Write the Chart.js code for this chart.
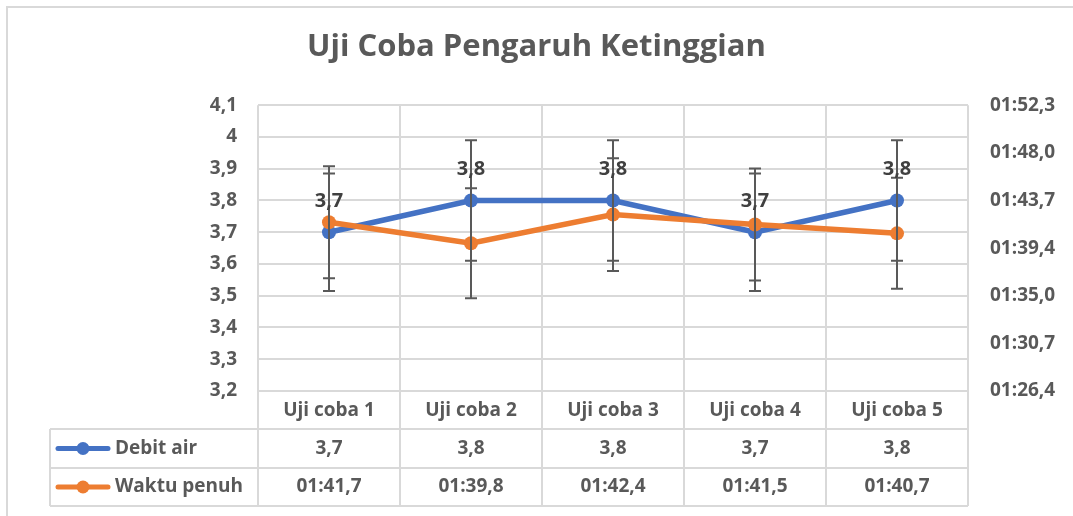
<!DOCTYPE html>
<html>
<head>
<meta charset="utf-8">
<title>Uji Coba Pengaruh Ketinggian</title>
<script src="https://cdn.jsdelivr.net/npm/chart.js@4.4.1/dist/chart.umd.min.js"></script>
<style>
  html, body { margin: 0; padding: 0; background: #fff; }
  #wrap { position: relative; width: 1073px; height: 516px; }
</style>
</head>
<body>
<div id="wrap"><canvas id="myChart"></canvas></div>
<script>
"use strict";

const categories = ["Uji coba 1", "Uji coba 2", "Uji coba 3", "Uji coba 4", "Uji coba 5"];
const seriesNames = ["Debit air", "Waktu penuh"];
const debitAir = [3.7, 3.8, 3.8, 3.7, 3.8];
// waktu penuh in seconds (01:41,7 -> 101.7)
const waktuPenuh = [101.7, 99.8, 102.4, 101.5, 100.7];
// percentage error bars, as set in the sheet
const errorPercent = 5;
const leftTicks = [3.2, 3.3, 3.4, 3.5, 3.6, 3.7, 3.8, 3.9, 4.0, 4.1];
const rightTicks = [86.4, 90.72, 95.04, 99.36, 103.68, 108, 112.32];

const BLUE = "#4472C4";
const ORANGE = "#ED7D31";
const TEXT = "#595959";
const GRID = "#d9d9d9";
const FONT = "'Open Sans', Lato, sans-serif";

function formatNum(v) {
    return String(Math.round(v * 10) / 10).replace(".", ",");
}

function formatTime(s) {
    let m = Math.floor(s / 60);
    let rest = (s - m * 60).toFixed(1).replace(".", ",");
    if (rest.length < 4) rest = "0" + rest;
    return String(m).padStart(2, "0") + ":" + rest;
}

// outer frame of the chart
const framePlugin = {
    id: "frame",
    beforeDraw(chart) {
        const ctx = chart.ctx;
        ctx.save();
        ctx.fillStyle = "#fff";
        ctx.fillRect(0, 0, chart.width, chart.height);
        ctx.strokeStyle = GRID;
        ctx.lineWidth = 2;
        ctx.strokeRect(7, 7, chart.width + 20, chart.height + 20);
        ctx.restore();
    }
};

// error bars + value labels on top of the lines
const errorBarPlugin = {
    id: "errorBars",
    afterDatasetsDraw(chart) {
        const ctx = chart.ctx;
        ctx.save();
        ctx.strokeStyle = TEXT;
        ctx.lineWidth = 2;
        chart.data.datasets.forEach(function(ds, di) {
            const meta = chart.getDatasetMeta(di);
            const scale = chart.scales[ds.yAxisID];
            ds.data.forEach(function(v, i) {
                const x = meta.data[i].x;
                const err = v * errorPercent / 100;
                const yTop = scale.getPixelForValue(v + err);
                const yBot = scale.getPixelForValue(v - err);
                ctx.beginPath();
                ctx.moveTo(x, yTop);
                ctx.lineTo(x, yBot);
                ctx.moveTo(x - 6, yTop);
                ctx.lineTo(x + 6, yTop);
                ctx.moveTo(x - 6, yBot);
                ctx.lineTo(x + 6, yBot);
                ctx.stroke();
            });
        });

        // labels for Debit air
        const meta0 = chart.getDatasetMeta(0);
        ctx.fillStyle = "#404040";
        ctx.font = "bold 20px " + FONT;
        ctx.textAlign = "center";
        ctx.textBaseline = "middle";
        debitAir.forEach(function(v, i) {
            const p = meta0.data[i];
            ctx.fillText(formatNum(v), p.x, p.y - 31);
        });
        ctx.restore();
    }
};

// data table under the plot
const tablePlugin = {
    id: "dataTable",
    afterDraw(chart) {
        const ctx = chart.ctx;
        const xs = chart.scales.x;
        const area = chart.chartArea;
        const half = (xs.getPixelForValue(1) - xs.getPixelForValue(0)) / 2;
        const tableLeft = 50;
        const rows = [area.bottom, 429, 468, 506];

        ctx.save();
        ctx.strokeStyle = GRID;
        ctx.lineWidth = 2;
        ctx.beginPath();
        // vertical lines below the plot
        for (let i = 0; i <= categories.length; i++) {
            const x = xs.getPixelForValue(i) - half;
            ctx.moveTo(x, area.bottom);
            ctx.lineTo(x, rows[3]);
        }
        ctx.moveTo(tableLeft, rows[1]);
        ctx.lineTo(tableLeft, rows[3]);
        for (let r = 1; r < rows.length; r++) {
            ctx.moveTo(tableLeft, rows[r]);
            ctx.lineTo(area.right, rows[r]);
        }
        ctx.stroke();

        ctx.fillStyle = TEXT;
        ctx.font = "bold 19px " + FONT;
        ctx.textAlign = "center";
        ctx.textBaseline = "middle";
        categories.forEach(function(c, i) {
            const x = xs.getPixelForValue(i);
            ctx.fillText(c, x, (rows[0] + rows[1]) / 2 + 1);
            ctx.fillText(formatNum(debitAir[i]), x, (rows[1] + rows[2]) / 2);
            ctx.fillText(formatTime(waktuPenuh[i]), x, (rows[2] + rows[3]) / 2);
        });

        // legend keys inside the table
        const keyColors = [BLUE, ORANGE];
        seriesNames.forEach(function(name, r) {
            const y = (rows[r + 1] + rows[r + 2]) / 2;
            ctx.strokeStyle = keyColors[r];
            ctx.lineWidth = 5;
            ctx.lineCap = "round";
            ctx.beginPath();
            ctx.moveTo(58, y);
            ctx.lineTo(108, y);
            ctx.stroke();
            ctx.fillStyle = keyColors[r];
            ctx.beginPath();
            ctx.arc(83, y, 6.5, 0, Math.PI * 2);
            ctx.fill();
            ctx.fillStyle = TEXT;
            ctx.textAlign = "left";
            ctx.fillText(name, 115, y);
        });
        ctx.restore();
    }
};

const ctx = document.getElementById("myChart").getContext("2d");
const chart = new Chart(ctx, {
    type: "line",
    data: {
        labels: categories,
        datasets: [
            {
                label: seriesNames[0],
                data: debitAir,
                yAxisID: "y",
                borderColor: BLUE,
                backgroundColor: BLUE,
                pointBackgroundColor: BLUE,
                borderWidth: 5.5,
                pointRadius: 7,
                pointBorderWidth: 0,
                order: 1
            },
            {
                label: seriesNames[1],
                data: waktuPenuh,
                yAxisID: "y2",
                borderColor: ORANGE,
                backgroundColor: ORANGE,
                pointBackgroundColor: ORANGE,
                borderWidth: 5.5,
                pointRadius: 7,
                pointBorderWidth: 0,
                order: 0
            }
        ]
    },
    options: {
        responsive: true,
        maintainAspectRatio: false,
        animation: false,
        layout: { padding: { left: 0, right: 0, top: 0, bottom: 125 } },
        plugins: {
            legend: { display: false },
            tooltip: { enabled: false },
            title: {
                display: true,
                text: "Uji Coba Pengaruh Ketinggian",
                color: TEXT,
                font: { family: FONT, size: 31, weight: "bold" },
                padding: { top: 29, bottom: 39 }
            }
        },
        scales: {
            x: {
                offset: true,
                grid: { offset: true, color: GRID, lineWidth: 2, drawTicks: false },
                border: { display: false },
                ticks: { display: false }
            },
            y: {
                position: "left",
                min: 3.2,
                max: 4.1,
                afterBuildTicks: function(scale) {
                    scale.ticks = leftTicks.map(v => ({ value: v }));
                },
                afterFit: function(scale) {
                    scale.width = 258;
                },
                grid: { color: GRID, lineWidth: 2, drawTicks: false },
                border: { display: false },
                ticks: {
                    color: TEXT,
                    padding: 21,
                    font: { family: FONT, size: 19, weight: "bold" },
                    callback: v => formatNum(v)
                }
            },
            y2: {
                position: "right",
                min: rightTicks[0],
                max: rightTicks[rightTicks.length - 1],
                afterBuildTicks: function(scale) {
                    scale.ticks = rightTicks.map(v => ({ value: v }));
                },
                afterFit: function(scale) {
                    scale.width = 105;
                },
                grid: { display: false, drawTicks: false },
                border: { display: false },
                ticks: {
                    color: TEXT,
                    padding: 22,
                    font: { family: FONT, size: 19, weight: "bold" },
                    callback: v => formatTime(v)
                }
            }
        }
    },
    plugins: [framePlugin, errorBarPlugin, tablePlugin]
});
</script>
</body>
</html>
